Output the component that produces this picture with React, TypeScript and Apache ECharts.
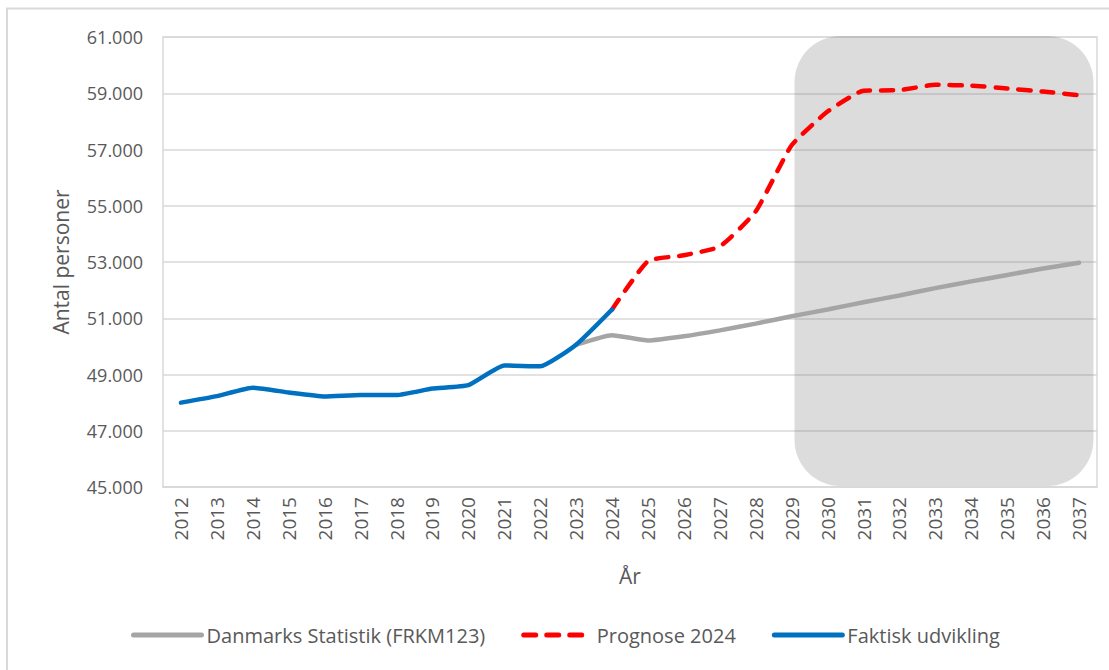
import React, { useEffect, useRef } from "react";
import * as echarts from "echarts";

const years = [
  "2012", "2013", "2014", "2015", "2016", "2017", "2018", "2019", "2020",
  "2021", "2022", "2023", "2024", "2025", "2026", "2027", "2028", "2029",
  "2030", "2031", "2032", "2033", "2034", "2035", "2036", "2037",
];

const dstValues = [
  null, null, null, null, null, null, null, null, null, null, null,
  50060, 50400, 50210, 50360, 50570, 50810, 51070, 51310, 51570, 51810,
  52070, 52310, 52540, 52770, 52970,
];

const prognoseValues = [
  null, null, null, null, null, null, null, null, null, null, null, null,
  51310, 53030, 53240, 53550, 54800, 57150, 58350, 59090, 59110, 59300,
  59270, 59170, 59060, 58930,
];

const faktiskValues = [
  48000, 48230, 48530, 48360, 48220, 48270, 48270, 48500, 48620, 49320,
  49290, 50060, 51310,
];

const seriesNames = ["Danmarks Statistik (FRKM123)", "Prognose 2024", "Faktisk udvikling"];
const yMin = 45000;
const yMax = 61000;
const yInterval = 2000;
const shadeFrom = "2029";
const shadeTo = "2037";

const FONT = "'Open Sans', 'Liberation Sans', sans-serif";
const TXT = "#595959";

export default function App() {
  const ref = useRef<HTMLDivElement>(null);

  useEffect(() => {
    if (!ref.current) return;
    const chart = echarts.init(ref.current, null, { renderer: "svg" });
    chart.setOption({
      animation: false,
      backgroundColor: "#ffffff",
      textStyle: { fontFamily: FONT },
      grid: {
        left: 163,
        right: 12,
        top: 37,
        bottom: 183,
        show: true,
        borderColor: "#d9d9d9",
        borderWidth: 1.5,
      },
      legend: {
        bottom: 20,
        left: 126,
        itemWidth: 68,
        itemHeight: 14,
        itemGap: 36,
        itemStyle: { opacity: 0 },
        lineStyle: { width: 5, cap: "round" },
        textStyle: { color: TXT, fontSize: 20, fontFamily: FONT },
        data: seriesNames,
      },
      xAxis: {
        type: "category",
        data: years,
        boundaryGap: true,
        axisLine: { show: true, lineStyle: { color: "#d9d9d9", width: 1.5 } },
        axisTick: { show: false },
        axisLabel: { rotate: 90, color: TXT, fontSize: 19, margin: 10, fontFamily: FONT },
        name: "År",
        nameLocation: "middle",
        nameGap: 78,
        nameTextStyle: { color: TXT, fontSize: 21, fontFamily: FONT },
      },
      yAxis: {
        type: "value",
        min: yMin,
        max: yMax,
        interval: yInterval,
        axisLine: { show: false },
        axisTick: { show: false },
        splitLine: { lineStyle: { color: "#d9d9d9", width: 1.5 } },
        axisLabel: {
          color: TXT,
          fontSize: 18,
          margin: 20,
          fontFamily: FONT,
          formatter: (v: number) => {
            const s = String(Math.round(v));
            return s.replace(/\B(?=(\d{3})+(?!\d))/g, ".");
          },
        },
        name: "Antal personer",
        nameLocation: "middle",
        nameGap: 92,
        nameTextStyle: { color: TXT, fontSize: 21, fontFamily: FONT },
      },
      series: [
        {
          name: seriesNames[0],
          type: "line",
          data: dstValues,
          symbol: "none",
          smooth: 0.15,
          lineStyle: { color: "#a5a5a5", width: 4.5, cap: "round" },
          itemStyle: { color: "#a5a5a5" },
          z: 3,
        },
        {
          name: seriesNames[1],
          type: "line",
          data: prognoseValues,
          symbol: "none",
          smooth: 0.15,
          lineStyle: { color: "#ff0000", width: 4.5, type: [12, 11], cap: "round" },
          itemStyle: { color: "#ff0000" },
          z: 4,
        },
        {
          name: seriesNames[2],
          type: "line",
          data: faktiskValues,
          symbol: "none",
          smooth: 0.15,
          lineStyle: { color: "#0070c0", width: 4.5, cap: "round" },
          itemStyle: { color: "#0070c0" },
          z: 5,
        },
      ],
    });

    const xa = chart.convertToPixel({ xAxisIndex: 0 }, shadeFrom) as number;
    const xb = chart.convertToPixel({ xAxisIndex: 0 }, shadeTo) as number;
    const yt = chart.convertToPixel({ yAxisIndex: 0 }, yMax) as number;
    const yb = chart.convertToPixel({ yAxisIndex: 0 }, yMin) as number;
    const step = (xb - xa) / (years.indexOf(shadeTo) - years.indexOf(shadeFrom));
    const left = xa + step * 0.08;
    const right = xb + step * 0.4;

    chart.setOption({
      graphic: [
        {
          type: "rect",
          z: 1,
          silent: true,
          shape: { x: left, y: yt - 1, width: right - left, height: yb - yt, r: 46 },
          style: { fill: "rgba(120,120,120,0.26)" },
        },
        {
          type: "rect",
          z: 0,
          silent: true,
          shape: { x: 7, y: 8.5, width: 1130, height: 700 },
          style: { fill: "none", stroke: "#d9d9d9", lineWidth: 2 },
        },
      ],
    });

    return () => chart.dispose();
  }, []);

  return (
    <div
      ref={ref}
      style={{ position: "absolute", left: 0, top: 0, width: 1109, height: 670 }}
    />
  );
}
